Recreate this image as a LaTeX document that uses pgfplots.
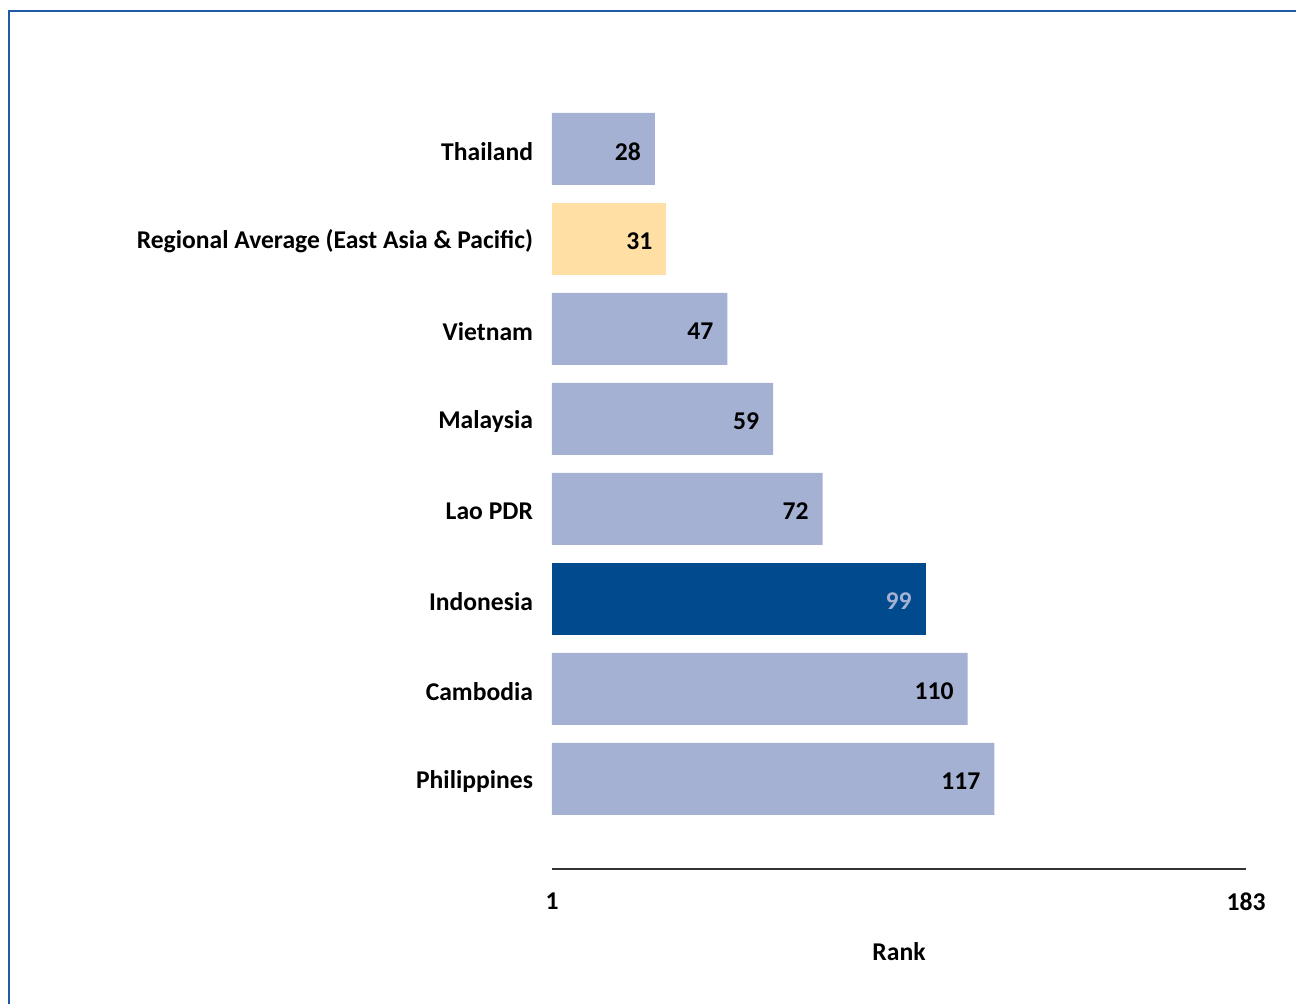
\documentclass[border=0pt]{standalone}
\usepackage{pgfplots}
\pgfplotsset{compat=1.18}
\usepackage{fontspec}
\setmainfont{Carlito}
\definecolor{barlight}{HTML}{A4B1D3}
\definecolor{barreg}{HTML}{FFDFA3}
\definecolor{bardark}{HTML}{004A8D}
\definecolor{frameblue}{HTML}{1F5CA8}
\definecolor{axgray}{HTML}{333333}
\begin{document}
\begin{tikzpicture}[x=0.5pt,y=0.5pt]
\useasboundingbox (0,0) rectangle (1296,1004);
\draw[frameblue,line width=1.2pt] (9,0) -- (9,993) -- (1300,993);
\begin{axis}[
  at={(552pt*0.5,135pt*0.5)}, anchor=south west,
  scale only axis,
  width=347pt, height=387pt,
  xmin=1, xmax=183, ymin=-1, ymax=7.6,
  xbar, bar width=36pt, bar shift=0pt,
  axis x line*=bottom, axis y line*=left,
  x axis line style={-, draw=axgray, line width=1pt},
  y axis line style={draw=none},
  major tick length=0pt,
  xtick={1,183},
  ytick={0,1,2,3,4,5,6,7},
  yticklabels={Philippines,Cambodia,Indonesia,Lao PDR,Malaysia,Vietnam,{Regional Average (East Asia \& Pacific)},Thailand},
  ticklabel style={font=\fontsize{12.8}{15}\selectfont\bfseries, text=black},
  yticklabel style={xshift=-6pt, yshift=-1.2pt},
  xticklabel style={yshift=-8.5pt},
  /pgf/number format/assume math mode=true,
  xlabel={Rank},
  xlabel style={font=\fontsize{12.8}{15}\selectfont\bfseries, at={(axis description cs:0.5,0)}, anchor=center, yshift=-41.5pt},
  nodes near coords,
  every node near coord/.append style={anchor=east, xshift=-3.5pt, yshift=-1.2pt, font=\fontsize{12.8}{15}\selectfont\bfseries},
  clip=true,
]
\addplot[fill=barlight, draw=none, nodes near coords style={text=black}] coordinates {(117,0) (110,1) (72,3) (59,4) (47,5) (28,7)};
\addplot[fill=bardark, draw=none, nodes near coords style={text=barlight}] coordinates {(99,2)};
\addplot[fill=barreg, draw=none, nodes near coords style={text=black}] coordinates {(31,6)};
\end{axis}
\end{tikzpicture}
\end{document}
